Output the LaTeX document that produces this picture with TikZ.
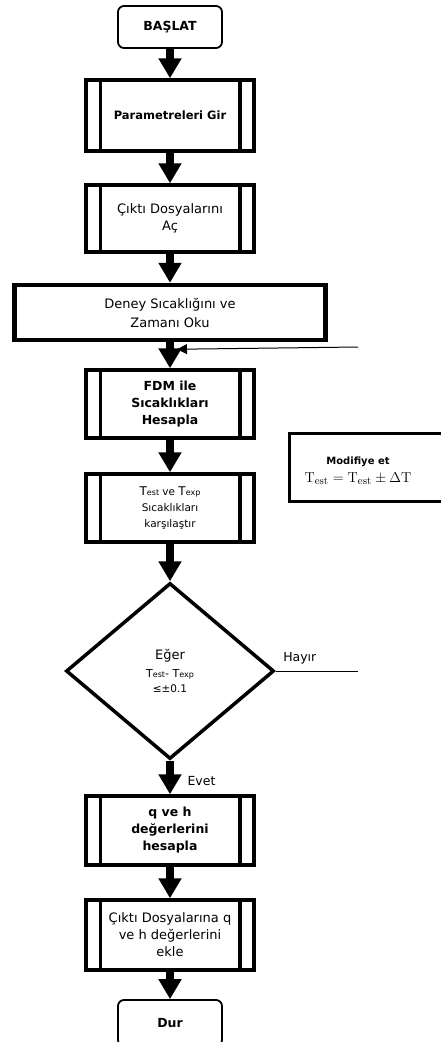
\documentclass[tikz,border=0pt]{standalone}
\usepackage[no-math]{fontspec}
\setmainfont{DejaVu Sans}
\usetikzlibrary{arrows.meta,shapes.geometric}

\tikzset{
  x=1pt,y=-1pt,
  term/.style={draw,rounded corners=6pt,line width=1.8pt,minimum width=104pt,
    font=\bfseries\fontsize{12.5}{15}\selectfont},
  subproc/.style={draw,line width=3.5pt,minimum width=168pt,align=center,
    font=\fontsize{13}{17}\selectfont},
  ioproc/.style={draw,line width=4.5pt,minimum width=311pt,minimum height=55pt,align=center,
    font=\fontsize{13}{19}\selectfont},
  decide/.style={draw,diamond,line width=3.5pt,minimum width=208pt,minimum height=176pt,
    inner sep=0pt,align=center,font=\fontsize{13}{19}\selectfont},
  flow/.style={line width=8pt,-{Triangle[width=22pt,length=20pt]}},
  feed/.style={line width=1pt},
  lbl/.style={font=\fontsize{12.5}{15}\selectfont}
}
\newcommand\SubBars[1]{
  \draw[line width=3.5pt] ([xshift=16pt]#1.north west) -- ([xshift=16pt]#1.south west)
    ([xshift=-16pt]#1.north east) -- ([xshift=-16pt]#1.south east);
}
\newcommand\sm[1]{{\fontsize{8}{8}\selectfont #1}}

\begin{document}
\begin{tikzpicture}
\useasboundingbox (0,0) rectangle (441,1042);
% main column
\node[term,minimum height=42pt] (start) at (170,27) {BAŞLAT};
\node[subproc,minimum height=71pt,font=\bfseries\fontsize{11.5}{17}\selectfont] (param) at (170,115.5) {Parametreleri Gir};
\node[subproc,minimum height=67pt] (cikti) at (170,218.5) {Çıktı Dosyalarını\\Aç};
\node[ioproc] (deney) at (170,312.5) {Deney Sıcaklığını ve\\Zamanı Oku};
\node[subproc,minimum height=68pt,font=\bfseries\fontsize{12.5}{17}\selectfont] (fdm) at (170,404) {FDM ile\\Sıcaklıkları\\Hesapla};
\node[subproc,minimum height=68pt,font=\fontsize{10.5}{16}\selectfont] (test) at (170,508) {{\fontsize{12}{12}\selectfont T}\sm{est} ve {\fontsize{12}{12}\selectfont T}\sm{exp}\\Sıcaklıkları\\karşılaştır};
\node[decide] (dec) at (170,671) {Eğer\\[-1pt]{\fontsize{11}{11}\selectfont T\sm{est}- T\sm{exp}}\\[-4pt]{\fontsize{10.5}{11}\selectfont ≤±0.1}};
\node[subproc,minimum height=69pt,font=\bfseries\fontsize{12.5}{17}\selectfont] (qh) at (170,830.5) {q ve h\\değerlerini\\hesapla};
\node[subproc,minimum height=70pt] (ekle) at (170,935) {Çıktı Dosyalarına q\\ve h değerlerini\\ekle};
\node[term,minimum height=46pt] (stop) at (170,1023) {Dur};
\SubBars{param}
\SubBars{cikti}
\SubBars{fdm}
\SubBars{test}
\SubBars{qh}
\SubBars{ekle}

% modify box, cut by the right edge
\node[draw,line width=3pt,minimum width=172pt,minimum height=68pt,anchor=north west] (modbox) at (288,432) {};
\node[align=center,font=\fontsize{15}{18}\selectfont] (modtext) at (358,471) {{\bfseries\fontsize{10}{12}\selectfont Modifiye et}\\
  $\mathrm{T}_{\mathrm{est}}=\mathrm{T}_{\mathrm{est}}\pm\Delta\mathrm{T}$};

% arrows
\draw[flow] (start) -- (param);
\draw[flow] (param) -- (cikti);
\draw[flow] (cikti) -- (deney);
\draw[flow] (deney) -- (fdm);
\draw[flow] (fdm) -- (test);
\draw[flow] (test) -- (dec);
\draw[flow] (dec) -- (qh);
\draw[flow] (qh) -- (ekle);
\draw[flow] (ekle) -- (stop);

% loop stubs
\coordinate (noend) at (358,671);
\coordinate (back) at (358,347);
\coordinate (join) at ([xshift=7pt,yshift=-7pt]deney.south);
\draw[feed] (dec.east) -- (noend);
\draw[feed,-{Triangle[width=10pt,length=10pt]}] (back) -- (join);
\node[lbl,anchor=south west] (hayir) at ([xshift=4pt,yshift=3pt]dec.east) {Hayır};
\node[lbl,anchor=west] (evet) at ([xshift=14pt,yshift=-20pt]dec.south) {Evet};
\end{tikzpicture}
\end{document}
